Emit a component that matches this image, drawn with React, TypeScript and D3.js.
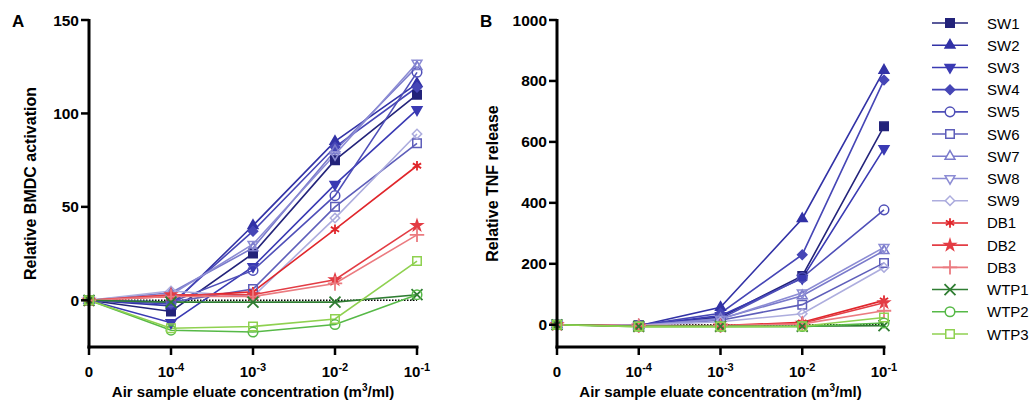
import * as d3 from 'd3'

// concentration categories (0, then 10^exp)
const xCats = ['0', '-4', '-3', '-2', '-1']

const seriesNames = ['SW1', 'SW2', 'SW3', 'SW4', 'SW5', 'SW6', 'SW7', 'SW8', 'SW9', 'DB1', 'DB2', 'DB3', 'WTP1', 'WTP2', 'WTP3']

const seriesColors = ['#23237a', '#3232a6', '#3a3ab3', '#4646b6', '#4f4fb8', '#5e5eba', '#7a7acb', '#8c8cd4', '#adadde', '#e0262b', '#e33c44', '#eb7b80', '#2f7d32', '#56b947', '#8fd150']

// marker kind per series
const seriesMarkers = ['square', 'triangle', 'triangleDown', 'diamond', 'circleOpen', 'squareOpen', 'triangleOpen', 'triangleDownOpen', 'diamondOpen', 'asterisk', 'star', 'plus', 'times', 'circleOpen', 'squareOpen']

// Panel A: relative BMDC activation
const bmdcValues = [
  [0, -6, 25, 75, 110],
  [0, -3, 40, 85, 116],
  [0, -12, 18, 62, 102],
  [0, -2, 37, 82, 114],
  [0, -1, 16, 56, 122],
  [0, -1, 6, 50, 84],
  [0, 4, 28, 80, 125],
  [0, 3, 30, 78, 127],
  [0, 5, 2, 44, 89],
  [0, 2, 4.5, 38, 72],
  [0, 3, 3, 11, 40],
  [0, 2, 2, 9, 35],
  [0, -1, -1, -1, 3],
  [0, -16, -17, -13, 3],
  [0, -15, -14, -10, 21],
]

// Panel B: relative TNF release
const tnfValues = [
  [0, -2, 25, 160, 651],
  [0, -3, 57, 348, 835],
  [0, -3, 30, 152, 578],
  [0, -2, 38, 230, 803],
  [0, -3, 20, 155, 377],
  [0, -4, 15, 66, 203],
  [0, -3, 20, 95, 243],
  [0, -3, 18, 105, 254],
  [0, -2, 10, 36, 188],
  [0, -4, -3, 8, 80],
  [0, -4, -4, 5, 72],
  [0, -3, -3, 3, 46],
  [0, -5, -5, -5, -3],
  [0, -6, -6, -6, 6],
  [0, -6, -6, -5, 24],
]

const bmdcTicks = [0, 50, 100, 150]
const tnfTicks = [0, 200, 400, 600, 800, 1000]

const FONT = "'Liberation Sans', Arial, Helvetica, sans-serif"

const sym = d3 as any

function markerSpec(kind: string) {
  switch (kind) {
    case 'square': return { type: d3.symbolSquare, size: 72, fill: true, rot: 0 }
    case 'squareOpen': return { type: d3.symbolSquare, size: 72, fill: false, rot: 0 }
    case 'triangle': return { type: d3.symbolTriangle, size: 42, fill: true, rot: 0 }
    case 'triangleOpen': return { type: d3.symbolTriangle, size: 42, fill: false, rot: 0 }
    case 'triangleDown': return { type: d3.symbolTriangle, size: 42, fill: true, rot: 180 }
    case 'triangleDownOpen': return { type: d3.symbolTriangle, size: 42, fill: false, rot: 180 }
    case 'diamond': return { type: d3.symbolSquare, size: 44, fill: true, rot: 45 }
    case 'diamondOpen': return { type: d3.symbolSquare, size: 44, fill: false, rot: 45 }
    case 'circleOpen': return { type: d3.symbolCircle, size: 72, fill: false, rot: 0 }
    case 'star': return { type: d3.symbolStar, size: 36, fill: true, rot: 0 }
    case 'asterisk': return { type: sym.symbolAsterisk ?? d3.symbolCross, size: 64, fill: false, rot: 0 }
    case 'plus': return { type: sym.symbolPlus ?? d3.symbolCross, size: 70, fill: false, rot: 0 }
    case 'times': return { type: sym.symbolTimes ?? sym.symbolX ?? d3.symbolCross, size: 80, fill: false, rot: 0 }
    default: return { type: d3.symbolCircle, size: 60, fill: true, rot: 0 }
  }
}

function Marker({ kind, color, x, y, bg }: { kind: string; color: string; x: number; y: number; bg?: string }) {
  const s = markerSpec(kind)
  const d = d3.symbol().type(s.type).size(s.size)() || ''
  const isStroke = kind === 'asterisk' || kind === 'plus' || kind === 'times'
  return (
    <path
      d={d}
      transform={`translate(${x},${y}) rotate(${s.rot})`}
      fill={isStroke ? 'none' : s.fill ? color : (bg ?? 'none')}
      stroke={color}
      strokeWidth={isStroke ? 1.8 : 1.5}
    />
  )
}

function XTickLabel({ cat, x, y }: { cat: string; x: number; y: number }) {
  if (cat === '0') {
    return <text x={x} y={y} textAnchor="middle" fontSize={15} fontWeight="bold">0</text>
  }
  return (
    <text x={x} y={y} textAnchor="middle" fontSize={15} fontWeight="bold">
      10<tspan dy={-6} fontSize={11}>{cat}</tspan>
    </text>
  )
}

function Panel({ letter, values, ticks, yDomain, xRange, yRange, yTitle, titleX }: {
  letter: string; values: number[][]; ticks: number[]; yDomain: [number, number];
  xRange: [number, number]; yRange: [number, number]; yTitle: string; titleX: number
}) {
  const x = d3.scalePoint<string>().domain(xCats).range(xRange)
  const y = d3.scaleLinear().domain(yDomain).range(yRange)
  const axisY = y(yDomain[0])
  const line = d3.line<number>().x((_, i) => x(xCats[i]) as number).y(v => y(v))
  const x0 = xRange[0]
  const xMid = (xRange[0] + xRange[1]) / 2
  const yMid = (yRange[0] + yRange[1]) / 2

  return (
    <g fontFamily={FONT}>
      <text x={x0 - 77} y={27} fontSize={17} fontWeight="bold">{letter}</text>

      {/* baseline */}
      <line x1={x0} x2={xRange[1]} y1={y(0)} y2={y(0)} stroke="#000" strokeWidth={1.5} strokeDasharray="1.5,1.5" />

      {values.map((vals, i) => (
        <path key={seriesNames[i]} d={line(vals) || ''} fill="none" stroke={seriesColors[i]} strokeWidth={1.6} />
      ))}
      {values.map((vals, i) => (
        <g key={'m' + seriesNames[i]}>
          {vals.map((v, j) => (
            <Marker key={j} kind={seriesMarkers[i]} color={seriesColors[i]} x={x(xCats[j]) as number} y={y(v)} />
          ))}
        </g>
      ))}

      {/* axes */}
      <line x1={x0} x2={x0} y1={yRange[1] - 1} y2={axisY + 1.5} stroke="#000" strokeWidth={3} />
      <line x1={x0 - 1.5} x2={xRange[1] + 1.5} y1={axisY} y2={axisY} stroke="#000" strokeWidth={3} />
      {ticks.map(t => (
        <g key={t}>
          <line x1={x0 - 8} x2={x0} y1={y(t)} y2={y(t)} stroke="#000" strokeWidth={2.5} />
          <text x={x0 - 10} y={y(t) + 5.5} textAnchor="end" fontSize={15.5} fontWeight="bold">{t}</text>
        </g>
      ))}
      {xCats.map(c => (
        <g key={c}>
          <line x1={x(c)} x2={x(c)} y1={axisY} y2={axisY + 8} stroke="#000" strokeWidth={2.5} />
          <XTickLabel cat={c} x={x(c) as number} y={377} />
        </g>
      ))}

      <text x={xMid} y={397} textAnchor="middle" fontSize={15} fontWeight="bold">
        Air sample eluate concentration (m<tspan dy={-6} fontSize={10}>3</tspan><tspan dy={6}>/ml)</tspan>
      </text>
      <text transform={`translate(${titleX},${yMid}) rotate(-90)`} textAnchor="middle" fontSize={16} fontWeight="bold">
        {yTitle}
      </text>
    </g>
  )
}

export default function App() {
  const legendY = d3.scalePoint<string>().domain(seriesNames).range([23, 334])
  return (
    <svg width={1035} height={407} style={{ position: 'absolute', left: 0, top: 0, background: '#fff' }}>
      <rect width={1035} height={407} fill="#fff" />
      <Panel
        letter="A" values={bmdcValues} ticks={bmdcTicks} yDomain={[-25, 150]}
        xRange={[89, 417]} yRange={[347, 20]} yTitle="Relative BMDC activation" titleX={36}
      />
      <Panel
        letter="B" values={tnfValues} ticks={tnfTicks} yDomain={[-73, 1000]}
        xRange={[557, 884]} yRange={[347, 20]} yTitle="Relative TNF release" titleX={498}
      />
      <g fontFamily={FONT}>
        {seriesNames.map((n, i) => {
          const ly = legendY(n) as number
          return (
            <g key={n}>
              <line x1={932} x2={968} y1={ly} y2={ly} stroke={seriesColors[i]} strokeWidth={1.6} />
              <Marker kind={seriesMarkers[i]} color={seriesColors[i]} x={950} y={ly} bg="#fff" />
              <text x={987} y={ly + 5.5} fontSize={15}>{n}</text>
            </g>
          )
        })}
      </g>
    </svg>
  )
}
